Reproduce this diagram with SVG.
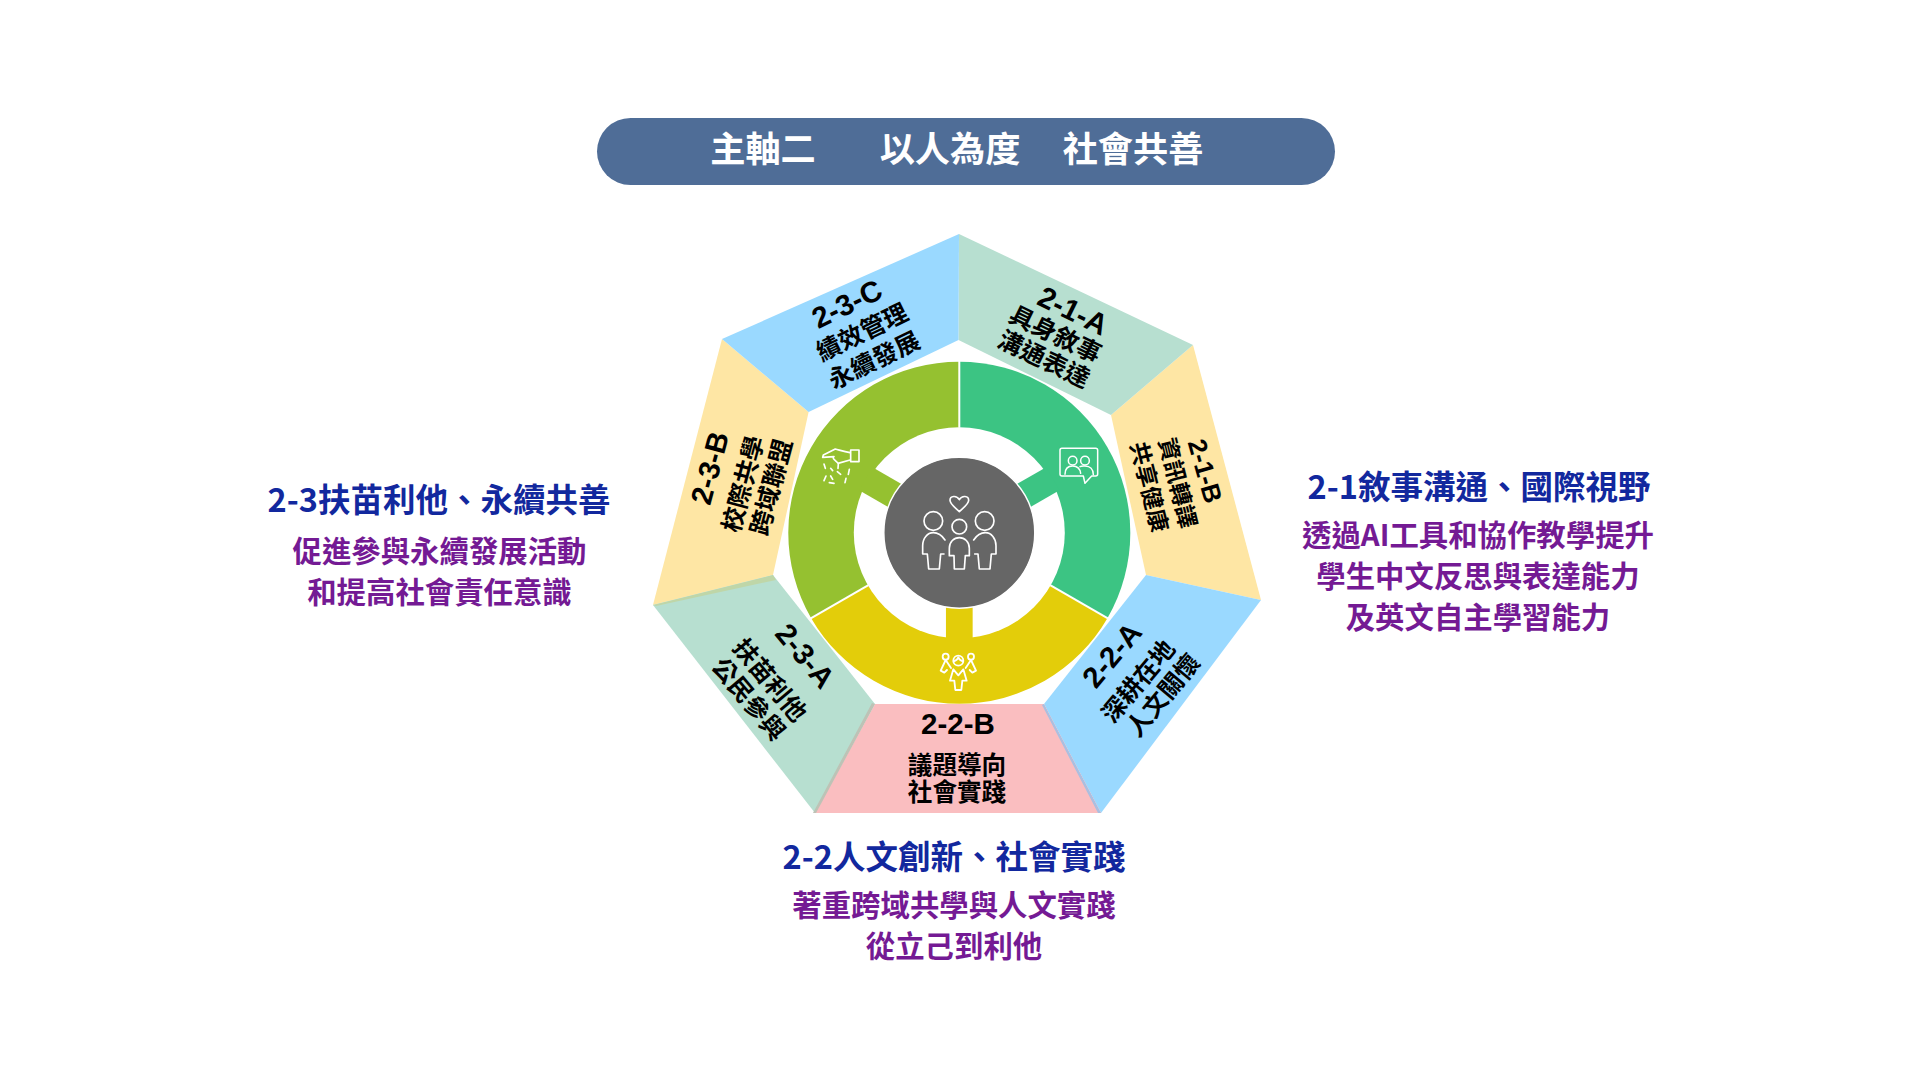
<svg xmlns="http://www.w3.org/2000/svg" width="1920" height="1080" viewBox="0 0 1920 1080">
<style>
text{font-family:"Noto Sans CJK TC","Noto Sans CJK SC",sans-serif;font-weight:700;text-anchor:middle}
.hd{font-size:35.2px;fill:#fff}
.tt{font-size:32.5px;fill:#12289E}
.bd{font-size:29.4px;fill:#741A94}
.id{font-family:"Liberation Sans","Noto Sans CJK TC",sans-serif;font-size:29.5px;fill:#000}
.lb{font-size:24.6px;fill:#000}
.ic{fill:none;stroke:#fff;stroke-linejoin:round;stroke-linecap:round}
</style>
<rect width="1920" height="1080" fill="#fff"/>
<g id="header"><rect x="597" y="118" width="738" height="67" rx="33.5" fill="#4F6D97"/>
<text class="hd" x="763" y="162">主軸二</text><text class="hd" x="950" y="162">以人為度</text><text class="hd" x="1133" y="162">社會共善</text></g>

<g id="seg-2-3-B"><polygon points="722,339 808.6,412 773,575 653,605" fill="#FEE6A4"/>
<text class="id" transform="translate(710,468) rotate(-75)" y="10">2-3-B</text>
<text class="lb" transform="translate(743,484) rotate(-75)" y="9">校際共學</text>
<text class="lb" transform="translate(771,487) rotate(-75)" y="9">跨域聯盟</text></g>
<g id="seg-2-1-B"><polygon points="1111,415 1193,345 1261,600 1146,575" fill="#FEE6A4"/>
<text class="id" style="font-size:26px" transform="translate(1205,471) rotate(74)" y="9">2-1-B</text>
<text class="lb" style="font-size:23px" transform="translate(1177.5,483) rotate(76)" y="8">資訊轉譯</text>
<text class="lb" style="font-size:23px" transform="translate(1149,487) rotate(76)" y="8">共享健康</text></g>
<g id="seg-2-1-A"><polygon points="959,234 1193,345 1111,415 958.5,340" fill="#B7DFD0"/>
<text class="id" transform="translate(1073,311) rotate(26)" y="10">2-1-A</text>
<text class="lb" transform="translate(1055.5,334) rotate(26)" y="9">具身敘事</text>
<text class="lb" transform="translate(1044,359) rotate(26)" y="9">溝通表達</text></g>
<g id="seg-2-3-C"><polygon points="959,234 958.5,340 808.6,412 722,339" fill="#9AD9FF"/>
<text class="id" transform="translate(847,304) rotate(-26)" y="10">2-3-C</text>
<text class="lb" transform="translate(862,332) rotate(-26)" y="9">績效管理</text>
<text class="lb" transform="translate(874,360) rotate(-26)" y="9">永續發展</text></g>
<g id="seg-2-3-A"><polygon points="653,605 773,575 875,704 815,813" fill="#B7DFD0"/>
<polygon points="653,605 773,575 776,580 656,606" fill="#BFD6A8"/>
<text class="id" transform="translate(805,656) rotate(50)" y="10">2-3-A</text>
<text class="lb" transform="translate(770,680) rotate(50)" y="9">扶苗利他</text>
<text class="lb" transform="translate(749,699) rotate(50)" y="9">公民參與</text></g>
<g id="seg-2-2-A"><polygon points="1146,575 1261,600 1101,813 1044,704" fill="#9AD9FF"/>
<text class="id" transform="translate(1112,655) rotate(-50)" y="10">2-2-A</text>
<text class="lb" transform="translate(1138,681) rotate(-50)" y="9">深耕在地</text>
<text class="lb" transform="translate(1163,695) rotate(-50)" y="9">人文關懷</text></g>
<g id="seg-2-2-B"><polygon points="875,704 1044,704 1101,813 815,813" fill="#FABEC0"/>
<polygon points="875,704 872,703 813,813 816,813" fill="#BDC3B6"/>
<polygon points="1044,704 1101,813 1098,813 1042,705" fill="#ABBFE0"/>
<text class="id" x="958" y="734">2-2-B</text>
<text class="lb" x="957" y="774">議題導向</text>
<text class="lb" x="957" y="801">社會實踐</text></g>

<g id="ring" transform="translate(959.3,532.7)">
<g id="band-green"><path d="M0 0V-171A171 171 0 0 1 148.1 85.5Z" fill="#3CC483"/></g>
<g id="band-yellow"><path d="M0 0L148.1 85.5A171 171 0 0 1 -148.1 85.5Z" fill="#E3CD0A"/></g>
<g id="band-lime"><path d="M0 0L-148.1 85.5A171 171 0 0 1 0 -171Z" fill="#95C130"/></g>
<circle r="105.5" fill="#fff"/>
<rect x="-13.35" y="-108" width="26.7" height="36" fill="#3CC483" transform="rotate(60)"/>
<rect x="-13.35" y="-108" width="26.7" height="36" fill="#E3CD0A" transform="rotate(180)"/>
<rect x="-13.35" y="-108" width="26.7" height="36" fill="#95C130" transform="rotate(300)"/>
<g stroke="#fff" stroke-width="2"><line x1="0" y1="-105" x2="0" y2="-172"/><line x1="90.9" y1="52.5" x2="149" y2="86"/><line x1="-90.9" y1="52.5" x2="-149" y2="86"/></g>
<circle r="75.5" fill="#666" stroke="#fff" stroke-width="1.5"/>
</g>

<g id="icon-center" class="ic" stroke-width="5" transform="translate(910,485) scale(.3333)">
<path d="M148 80C138 70 120 58 120 46C120 32 140 30 148 44C156 30 176 32 176 46C176 58 158 70 148 80Z"/>
<circle cx="148" cy="125" r="22"/><circle cx="70" cy="108" r="28"/><circle cx="224" cy="108" r="28"/>
<path d="M132 212H118V190C118 170 132 158 148 158C164 158 178 170 178 190V212H166L163 252H133Z"/>
<path d="M105 165C95 150 82 143 70 143C52 143 38 160 38 182V207H52L56 252H88L92 207H102"/>
<path d="M191 165C201 150 214 143 226 143C244 143 258 160 258 182V207H244L240 252H208L204 207H194"/>
</g>
<g id="icon-2-1" class="ic" stroke-width="4.5" transform="translate(1050,440) scale(.3333)">
<path d="M36 25H137Q143 25 143 31V102Q143 108 137 108H125L105 130L100 108H36Q30 108 30 102V31Q30 25 36 25Z"/>
<circle cx="68" cy="62" r="13"/><circle cx="105" cy="62" r="13"/>
<path d="M45 103C45 85 55 78 68 78C80 78 90 86 92 100M90 80C95 77 100 78 105 78C120 78 130 88 130 104"/>
</g>
<g id="icon-2-3" class="ic" stroke-width="5" transform="translate(810,440) scale(.3333)">
<path d="M120 38C102 35 88 30 76 27L40 45L38 52L72 50C64 55 78 62 84 70L120 60"/>
<rect x="122" y="30" width="25" height="35"/>
<path d="M42 72L46 85M48 108L42 122M62 85L68 92M62 108L68 118M58 128L72 130M82 95L92 103M118 88L115 103M108 115L105 128M85 72L84 85"/>
</g>
<g id="icon-2-2" class="ic" stroke-width="5.5" transform="translate(925,640) scale(.3333)">
<circle cx="100" cy="62" r="15"/><path d="M86 64C95 62 98 58 100 52C102 58 105 62 114 64"/>
<circle cx="62" cy="50" r="9"/><circle cx="138" cy="50" r="9"/>
<path d="M62 60L47 92L58 98L66 90M62 60L78 84M138 60L153 92L142 98L134 90M138 60L122 84"/>
<path d="M85 88L75 122H88L91 150H109L112 122H125L115 88L100 106Z"/>
</g>

<g id="desc-2-3"><text class="tt" x="439" y="512">2-3扶苗利他、永續共善</text>
<text class="bd" x="439.5" y="562">促進參與永續發展活動</text><text class="bd" x="439.5" y="603">和提高社會責任意識</text></g>
<g id="desc-2-1"><text class="tt" x="1479" y="499">2-1敘事溝通、國際視野</text>
<text class="bd" x="1478" y="546">透過AI工具和協作教學提升</text><text class="bd" x="1478" y="587">學生中文反思與表達能力</text><text class="bd" x="1478" y="628">及英文自主學習能力</text></g>
<g id="desc-2-2"><text class="tt" x="954" y="869">2-2人文創新、社會實踐</text>
<text class="bd" x="954" y="916">著重跨域共學與人文實踐</text><text class="bd" x="954" y="957">從立己到利他</text></g>
</svg>
